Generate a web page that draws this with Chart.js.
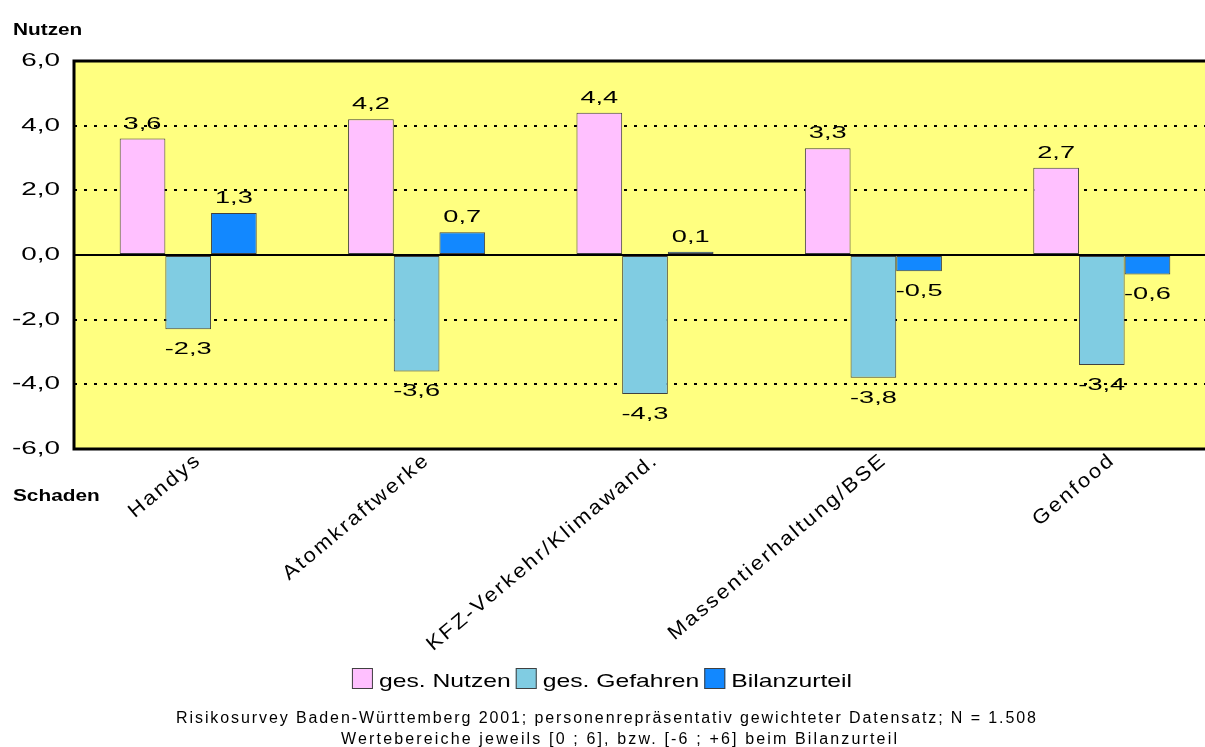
<!DOCTYPE html>
<html>
<head>
<meta charset="utf-8">
<script src="https://cdn.jsdelivr.net/npm/chart.js@4/dist/chart.umd.min.js"></script>
<style>
  html, body { margin: 0; padding: 0; background: #ffffff; }
  #wrap { width: 1205px; height: 747px; position: relative; }
</style>
</head>
<body>
<div id="wrap"><canvas id="chart" width="1205" height="747"></canvas></div>
<script>
// Risk survey: perceived benefit, perceived danger and overall balance per technology
const categories = ['Handys', 'Atomkraftwerke', 'KFZ-Verkehr/Klimawand.', 'Massentierhaltung/BSE', 'Genfood'];
const nutzen   = [3.6, 4.2, 4.4, 3.3, 2.7];
const gefahren = [-2.3, -3.6, -4.3, -3.8, -3.4];
const bilanz   = [1.3, 0.7, 0.1, -0.5, -0.6];
const seriesNames = ['ges. Nutzen', 'ges. Gefahren', 'Bilanzurteil'];
const yRange = [-6, 6];
const yStep = 2;
const axisTitleTop = 'Nutzen';
const axisTitleBottom = 'Schaden';
const footerLines = [
  'Risikosurvey Baden-Württemberg 2001; personenrepräsentativ gewichteter Datensatz; N = 1.508',
  'Wertebereiche jeweils [0 ; 6], bzw. [-6 ; +6] beim Bilanzurteil'
];

const FONT = '"Liberation Sans", Arial, Helvetica, sans-serif';
const colors = ['#FFC0FF', '#80CCE2', '#1288FF'];
const borderColor = '#404040';
const plotFill = '#FFFF80';

const fmt = v => v.toFixed(1).replace('.', ',');

// text helper: optional horizontal widening (sx), tracking (ls) and rotation
function drawText(ctx, text, x, y, opt) {
  const o = Object.assign({align: 'left', sx: 1, ls: 0, rot: 0, baseline: 'alphabetic'}, opt);
  ctx.save();
  ctx.letterSpacing = o.ls + 'px';
  ctx.textBaseline = o.baseline;
  ctx.textAlign = 'left';
  const w = (ctx.measureText(text).width - o.ls) * o.sx;
  ctx.translate(x, y);
  if (o.rot) ctx.rotate(o.rot);
  const x0 = o.align === 'center' ? -w / 2 : (o.align === 'right' ? -w : 0);
  ctx.translate(x0, 0);
  ctx.scale(o.sx, 1);
  ctx.fillText(text, 0, 0);
  ctx.restore();
  return w;
}

const RIGHT_EXTEND = 11;

const decorations = {
  id: 'decorations',
  afterLayout(chart) {
    // the plot runs a little past the right edge of the canvas
    const xs = chart.scales.x;
    xs.right += RIGHT_EXTEND;
    xs.width += RIGHT_EXTEND;
    xs.configure();
    chart.chartArea.right += RIGHT_EXTEND;
    chart.chartArea.width += RIGHT_EXTEND;
  },
  beforeDraw(chart) {
    const {ctx, chartArea: a} = chart;
    ctx.save();
    ctx.fillStyle = plotFill;
    ctx.fillRect(a.left, a.top, a.right - a.left, a.bottom - a.top);
    ctx.restore();
  },
  afterDatasetsDraw(chart) {
    const {ctx, chartArea: a} = chart;
    const y0 = chart.scales.y.getPixelForValue(0);
    ctx.save();
    ctx.strokeStyle = '#000';
    // zero line
    ctx.lineWidth = 2;
    ctx.beginPath();
    ctx.moveTo(a.left, y0);
    ctx.lineTo(a.right, y0);
    ctx.stroke();
    // plot frame (top, left, bottom)
    ctx.lineWidth = 3;
    ctx.beginPath();
    ctx.moveTo(a.right, a.top);
    ctx.lineTo(a.left, a.top);
    ctx.lineTo(a.left, a.bottom);
    ctx.lineTo(a.right, a.bottom);
    ctx.stroke();

    // value labels above / below each bar
    ctx.fillStyle = '#000';
    ctx.font = '17px ' + FONT;
    chart.data.datasets.forEach((ds, di) => {
      const meta = chart.getDatasetMeta(di);
      meta.data.forEach((el, i) => {
        const v = ds.data[i];
        const y = v >= 0 ? el.y - 10 : el.y + 25;
        drawText(ctx, fmt(v), el.x, y, {align: 'center', sx: 1.6});
      });
    });
    ctx.restore();
  },
  afterDraw(chart) {
    const {ctx} = chart;
    const ys = chart.scales.y, xs = chart.scales.x;
    ctx.save();
    ctx.fillStyle = '#000';

    // value axis labels
    ctx.font = '18px ' + FONT;
    ys.ticks.forEach(t => {
      drawText(ctx, fmt(t.value), 60, ys.getPixelForValue(t.value), {align: 'right', sx: 1.55, baseline: 'middle'});
    });

    // category labels, slanted
    ctx.font = '20px ' + FONT;
    const rot = -40 * Math.PI / 180;
    categories.forEach((c, i) => {
      drawText(ctx, c, xs.getPixelForTick(i) + 9, 459, {align: 'right', sx: 1.1, ls: 2.1, rot, baseline: 'middle'});
    });

    // axis captions
    ctx.font = 'bold 16px ' + FONT;
    drawText(ctx, axisTitleTop, 13, 35, {sx: 1.3});
    drawText(ctx, axisTitleBottom, 13, 501, {sx: 1.3});

    // legend
    ctx.font = '19px ' + FONT;
    const box = 21, gapText = 6, gapItem = 5, sx = 1.3;
    const widths = seriesNames.map(n => ctx.measureText(n).width * sx);
    const total = widths.reduce((s, w) => s + box + gapText + w, 0) + gapItem * (seriesNames.length - 1);
    let x = 602 - total / 2;
    const boxTop = 668;
    seriesNames.forEach((n, i) => {
      ctx.fillStyle = colors[i];
      ctx.fillRect(x, boxTop, box, box);
      ctx.strokeStyle = borderColor;
      ctx.lineWidth = 1;
      ctx.strokeRect(x + 0.5, boxTop + 0.5, box - 1, box - 1);
      ctx.fillStyle = '#000';
      drawText(ctx, n, x + box + gapText, 687, {sx});
      x += box + gapText + widths[i] + gapItem;
    });

    // source note
    ctx.font = '16px ' + FONT;
    drawText(ctx, footerLines[0], 606, 723, {align: 'center', ls: 1.9});
    drawText(ctx, footerLines[1], 619, 744, {align: 'center', ls: 2.15});
    ctx.restore();
  }
};

new Chart(document.getElementById('chart'), {
  type: 'bar',
  data: {
    labels: categories,
    datasets: [nutzen, gefahren, bilanz].map((d, i) => ({
      label: seriesNames[i],
      data: d,
      backgroundColor: colors[i],
      borderColor: borderColor,
      borderWidth: 1,
      borderSkipped: false,
      categoryPercentage: 0.6,
      barPercentage: 1.0
    }))
  },
  options: {
    responsive: false,
    animation: false,
    devicePixelRatio: 1,
    layout: { padding: { top: 61, left: 0, right: 0, bottom: 0 } },
    plugins: {
      legend: { display: false },
      title: { display: false },
      tooltip: { enabled: false }
    },
    scales: {
      x: {
        grid: { display: false, drawTicks: false },
        border: { display: false },
        ticks: { display: false },
        afterFit(scale) { scale.height = 298; }
      },
      y: {
        min: yRange[0],
        max: yRange[1],
        grid: {
          drawTicks: false,
          lineWidth: 2,
          color: c => (c.tick && [0, yRange[0], yRange[1]].includes(c.tick.value)) ? 'rgba(0,0,0,0)' : '#000'
        },
        border: { display: false, dash: [3, 7] },
        ticks: { stepSize: yStep, display: false },
        afterFit(scale) { scale.width = 74; }
      }
    }
  },
  plugins: [decorations]
});
</script>
</body>
</html>
